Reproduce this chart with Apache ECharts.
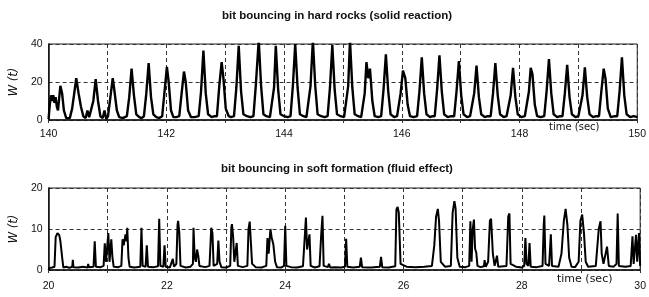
<!DOCTYPE html>
<html><head><meta charset="utf-8">
<script src="https://cdn.jsdelivr.net/npm/echarts@6/dist/echarts.min.js"></script>
<style>html,body{margin:0;padding:0;background:#fff}#c{width:649px;height:297px}</style>
</head><body><div id="c"></div>
<script>
// ---- data ----
const titles = ['bit bouncing in hard rocks (solid reaction)', 'bit bouncing in soft formation (fluid effect)'];
const hardTicks = [140, 142, 144, 146, 148, 150];
const softTicks = [20, 22, 24, 26, 28, 30];
const hardY = [0, 20, 40];
const softY = [0, 10, 20];

// hard rocks: time (sec) / W(t)
const hardTime = [140.00,140.02,140.04,140.06,140.08,140.10,140.12,140.14,140.16,140.20,140.23,140.26,140.30,
140.36,140.40,140.44,140.47,140.51,140.55,140.59,140.63,140.66,140.69,
140.72,140.76,140.80,140.84,140.88,140.92,140.95,140.98,
141.01,141.05,141.09,141.12,141.16,141.20,141.26,
141.33,141.37,141.41,141.45,141.49,141.54,141.58,
141.62,141.66,141.70,141.74,141.78,141.83,141.88,
141.93,141.97,142.01,142.04,142.08,142.12,142.17,
142.22,142.26,142.30,142.33,142.37,142.42,142.48,
142.55,142.59,142.63,142.67,142.71,142.77,142.82,
142.86,142.90,142.94,142.97,143.01,143.06,143.10,
143.15,143.19,143.23,143.27,143.31,143.37,143.43,
143.48,143.52,143.57,143.61,143.65,143.70,143.76,
143.79,143.83,143.86,143.90,143.94,144.00,144.06,
144.11,144.15,144.19,144.23,144.27,144.33,144.38,
144.41,144.45,144.49,144.53,144.57,144.63,144.69,
144.74,144.78,144.82,144.86,144.90,144.96,145.02,
145.05,145.09,145.12,145.16,145.20,145.26,145.31,
145.34,145.37,145.40,145.43,145.46,145.50,145.54,145.60,
145.65,145.69,145.73,145.77,145.81,145.87,145.92,
145.95,145.98,146.02,146.06,146.10,146.14,146.20,
146.26,146.30,146.34,146.38,146.42,146.48,146.52,
146.56,146.60,146.64,146.68,146.72,146.78,146.84,
146.89,146.93,146.97,147.01,147.05,147.11,147.16,
147.19,147.23,147.27,147.31,147.35,147.41,147.46,
147.51,147.55,147.59,147.63,147.67,147.73,147.78,
147.81,147.85,147.89,147.93,147.97,148.03,148.09,
148.12,148.16,148.19,148.22,148.26,148.30,148.36,
148.42,148.46,148.50,148.54,148.58,148.64,148.69,
148.73,148.77,148.81,148.85,148.89,148.95,149.00,
149.03,149.07,149.11,149.15,149.19,149.25,149.30,
149.35,149.39,149.43,149.46,149.50,149.55,149.62,
149.66,149.70,149.74,149.78,149.82,149.88,149.94,150.00];
const hardLoad = [0.5,8,13,10,13,9,12,7,5,18,14,5,1,
1,6,15,22,14,7,2,1,5,1.5,
2,10,21.5,10,2,1,5,0.5,
2,12,22,15,5,1.5,1,
2,12,27,13,3,1.5,1,
2,14,30,12,3,1.5,1,
2,15,28,20,5,1.5,1.5,
2,14,25.5,20,5,1.5,1.5,
2,15,36.5,14,3,1.5,2,
2,18,30.5,22,6,2,1.5,
2,17,39,15,3,2,1.5,
2,18,42,18,3,2,1.5,
2,17,39,16,3,2,1.5,
2,18,40,17,3,2,1.5,
2,18,42,18,3,2,1.5,
2,17,39.5,16,3,2,1.5,
2,18,42,17,3,2,1.5,
2,14,30.5,22,27,10,2,1.5,
2,16,34.5,15,3,1.5,2,
2,14,26,22,8,2,1.5,
2,15,33,14,3,1.5,2,
2,16,34,15,3,1.5,2,
2,15,31,13,3,1.5,2,
2,14,28.6,12,3,1.5,2,
2,14,30,13,3,1.5,2,
2,13,27.5,12,3,1.5,2,
2,15,27.5,24,8,2,1.5,
2,15,32,14,3,1.5,2,
2,14,29,12,3,1.5,2,
2,13,27.7,12,3,1.5,2,
2,15,27,22,6,1.5,2,
2,15,33,13,3,1.5,2,1.5];

// soft formation: time (sec) / W(t)
const softTime = [20.00,20.02,20.06,20.10,20.12,20.15,20.18,20.20,20.23,20.25,20.30,20.35,20.40,20.41,20.42,20.50,20.58,20.66,20.67,20.68,
20.76,20.78,20.80,20.88,20.93,20.95,20.97,21.01,21.03,21.06,21.08,21.10,21.18,21.23,21.25,21.27,21.30,21.32,21.33,21.35,21.37,
21.45,21.55,21.57,21.59,21.64,21.66,21.68,21.78,21.85,21.87,21.89,21.94,21.96,21.98,22.05,22.10,22.12,22.16,22.18,22.19,22.21,22.23,
22.32,22.40,22.44,22.45,22.47,22.49,22.51,22.53,22.55,22.65,22.72,22.75,22.77,22.79,22.85,22.87,22.89,22.92,
23.00,23.07,23.09,23.10,23.12,23.14,23.18,23.20,23.28,23.36,23.38,23.40,23.42,23.44,23.50,23.60,
23.68,23.70,23.72,23.75,23.77,23.80,23.83,23.86,23.93,23.98,24.00,24.02,24.10,24.20,
24.30,24.33,24.35,24.37,24.41,24.43,24.50,24.58,24.61,24.63,24.65,24.72,24.74,24.76,24.85,24.95,
25.01,25.03,25.05,25.15,25.26,25.28,25.30,25.45,25.60,25.62,25.64,25.75,25.86,25.88,25.90,25.92,25.95,
26.05,26.20,26.35,26.48,26.52,26.55,26.58,26.60,26.63,26.70,26.80,26.83,26.86,26.88,26.91,26.95,
27.05,27.11,27.13,27.15,27.17,27.19,27.21,27.23,27.25,27.30,27.36,27.37,27.39,27.43,27.46,27.48,27.51,27.54,27.57,27.58,27.60,
27.74,27.77,27.79,27.81,27.90,28.00,28.04,28.06,28.08,28.11,28.13,28.15,28.25,28.35,28.37,28.38,28.40,28.46,28.49,28.51,
28.62,28.67,28.71,28.74,28.77,28.80,28.84,28.90,28.96,28.99,29.02,29.05,29.08,29.12,29.25,29.30,29.33,29.35,29.38,29.44,29.47,
29.55,29.60,29.62,29.64,29.75,29.84,29.87,29.89,29.93,29.95,29.98,30.00];
const softLoad = [0,0.5,0.6,0.8,8,9,8.5,7,3,0.6,0.8,0.5,0.8,2.5,0.7,0.6,0.8,0.6,1.5,0.7,
0.8,7,0.8,0.7,1,6.5,2,9,2,7.5,3,0.8,0.7,1,7.5,6,8.7,7,10.3,3,0.8,
0.6,0.8,10.3,1,0.8,6,0.8,0.7,0.9,12.5,1,0.8,6,0.8,0.6,2.7,0.8,1.5,11,12,9,1,
0.6,0.8,1.5,10.3,3,2,5,3.5,1,0.7,1,10.3,9,1,1.5,7.2,2,0.7,
0.6,1,10.5,11.2,8,2,6.6,1,0.7,1,10,11.8,11.7,1.5,0.7,0.6,
1,7.8,4,10,8,6.2,2,0.7,0.6,1,10.8,1,0.7,0.6,
0.9,8,12.8,5,8.7,1,0.6,0.9,9,13.2,1,0.7,1.5,0.6,0.7,0.6,
0.8,7.6,0.8,0.6,0.8,3,0.7,0.6,0.8,3.2,0.7,0.6,0.9,14.8,15.4,14,1.5,
0.8,0.7,0.8,1,6,13,14.9,12,2,0.8,1,14,16.8,15,3,0.8,
0.7,1,11.9,2,10,12.3,5.2,4.2,1,0.7,0.9,2.4,0.8,2,12,12.5,4,1,1,3.5,0.8,
1,13,13.8,1.5,0.8,0.6,1,7.8,1.5,1,6.6,0.8,0.7,1,11,13.3,1.5,1,8.7,1,
0.8,4,12,14.9,11,3,0.8,0.7,2,12,13.5,9,2,0.8,1,10,11.9,4,1.5,5.7,1,
0.8,1.5,13.8,1,0.8,1,8.2,1.5,8.6,2,9,1];

const pairs = (t, v) => t.map((x, i) => [x, v[i]]);

const chart = echarts.init(document.getElementById('c'), null, {renderer: 'canvas'});
const tickFont = {fontFamily: 'Liberation Sans', fontSize: 10.5, color: '#111'};
function xAx(idx, lo, hi, ticks, margin) {
  return {type: 'value', gridIndex: idx, min: lo, max: hi, interval: 1,
    axisLine: {onZero: false, lineStyle: {color: '#111', width: 1.5}},
    axisTick: {show: true, length: 3, lineStyle: {color: '#333'}},
    axisLabel: Object.assign({margin: margin, formatter: v => ticks.indexOf(v) >= 0 ? String(v) : ''}, tickFont),
    splitLine: {show: true, lineStyle: {color: '#333', type: [4, 3], width: 1}}};
}
function yAx(idx, ticks) {
  return {type: 'value', gridIndex: idx, min: ticks[0], max: ticks[2], interval: ticks[1],
    name: 'W (t)', nameLocation: 'middle', nameGap: 24, nameRotate: 90,
    nameTextStyle: {fontFamily: 'DejaVu Sans', fontStyle: 'italic', fontSize: 11.5, color: '#111'},
    axisLine: {show: true, lineStyle: {color: '#111', width: 1.5}},
    axisTick: {show: false},
    axisLabel: Object.assign({margin: 6}, tickFont),
    splitLine: {show: true, lineStyle: {color: '#333', type: [4, 3], width: 1}}};
}
const titleStyle = {fontFamily: 'Liberation Sans', fontWeight: 'bold', fontSize: 11.5, color: '#111'};
chart.setOption({
  animation: false,
  backgroundColor: '#fff',
  title: [
    {text: titles[0], left: 332, textAlign: 'center', top: 5, textStyle: titleStyle},
    {text: titles[1], left: 332, textAlign: 'center', top: 158, textStyle: titleStyle}
  ],
  grid: [
    {left: 44, right: 7, top: 44, height: 76, show: true, borderColor: '#222', borderWidth: 1},
    {left: 44, right: 7, top: 188, height: 82, show: true, borderColor: '#222', borderWidth: 1}
  ],
  xAxis: [xAx(0, 140, 150, hardTicks, 9), xAx(1, 20, 30, softTicks, 11)],
  yAxis: [yAx(0, hardY), yAx(1, softY)],
  graphic: [
    {type: 'text', left: 549, top: 122, style: {text: 'time (sec)', font: '10px "DejaVu Sans"', fill: '#111'}},
    {type: 'text', left: 557, top: 274, style: {text: 'time (sec)', font: '11px "DejaVu Sans"', fill: '#111'}}
  ],
  series: [
    {type: 'line', xAxisIndex: 0, yAxisIndex: 0, data: pairs(hardTime, hardLoad), showSymbol: false, clip: true,
     lineStyle: {color: '#000', width: 2.4}},
    {type: 'line', xAxisIndex: 1, yAxisIndex: 1, data: pairs(softTime, softLoad), showSymbol: false, clip: true,
     lineStyle: {color: '#000', width: 2}}
  ]
});
</script></body></html>
